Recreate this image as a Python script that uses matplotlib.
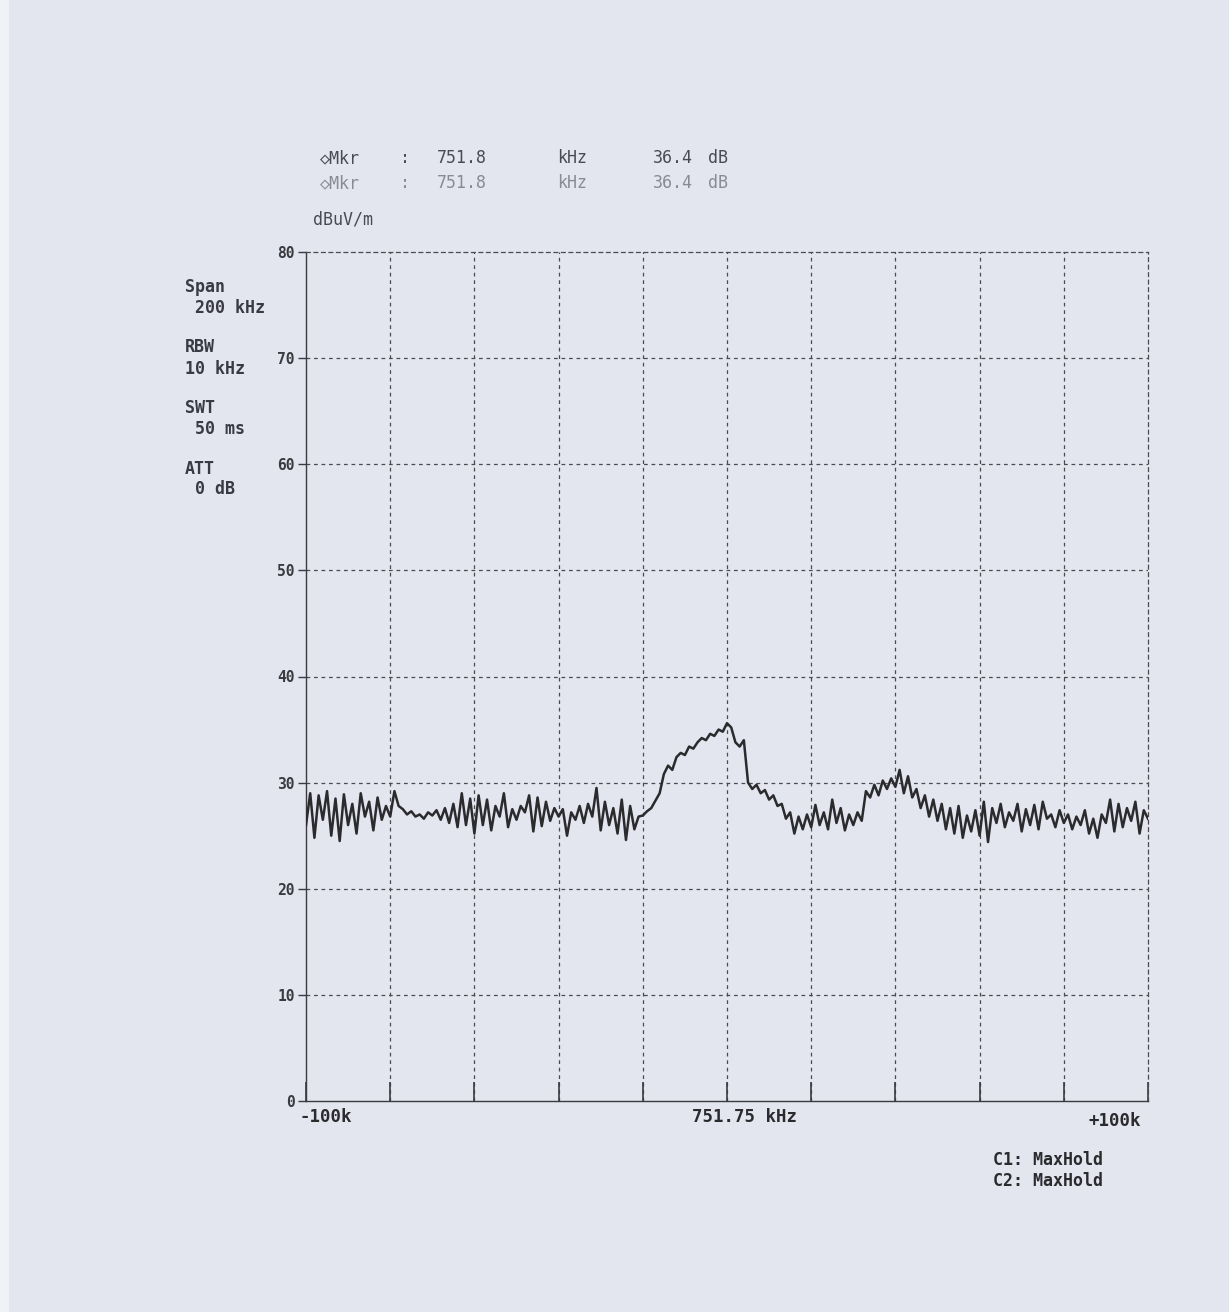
import numpy as np
import matplotlib
matplotlib.use("Agg")
import matplotlib.pyplot as plt

# Frequency offset from centre (kHz), 1 kHz steps across the 200 kHz span
offset_khz = np.arange(-100, 101, 1)

# MaxHold trace level (dBuV/m)
level_dbuv = [
    # -100 .. -81
    26.0, 29.0, 24.8, 28.8, 26.5, 29.2, 25.0, 28.5, 24.5, 28.9,
    26.0, 28.0, 25.2, 29.0, 26.8, 28.2, 25.5, 28.6, 26.5, 27.8,
    # -80 .. -61
    26.8, 29.2, 27.8, 27.5, 27.0, 27.3, 26.8, 27.0, 26.6, 27.2,
    26.9, 27.4, 26.5, 27.6, 26.2, 28.0, 25.8, 29.0, 26.0, 28.5,
    # -60 .. -41
    25.2, 28.8, 26.0, 28.4, 25.5, 27.8, 26.8, 29.0, 25.8, 27.5,
    26.5, 27.8, 27.2, 28.8, 25.4, 28.6, 25.9, 28.2, 26.4, 27.6,
    # -40 .. -21
    26.8, 27.5, 25.0, 27.2, 26.5, 27.8, 26.2, 28.0, 26.8, 29.5,
    25.5, 28.2, 26.0, 27.6, 25.2, 28.4, 24.6, 27.8, 25.6, 26.8,
    # -20 .. -1
    26.9, 27.3, 27.6, 28.3, 29.0, 30.8, 31.6, 31.2, 32.4, 32.8,
    32.6, 33.4, 33.2, 33.8, 34.2, 34.0, 34.6, 34.4, 35.0, 34.8,
    # 0 .. 19
    35.6, 35.2, 33.8, 33.4, 34.0, 30.0, 29.4, 29.8, 29.0, 29.3,
    28.4, 28.8, 27.8, 28.0, 26.6, 27.2, 25.2, 26.8, 25.6, 27.0,
    # 20 .. 39
    25.8, 27.9, 26.0, 27.2, 25.6, 28.4, 26.2, 27.6, 25.5, 27.0,
    26.0, 27.2, 26.4, 29.2, 28.6, 29.8, 28.8, 30.2, 29.4, 30.4,
    # 40 .. 59
    29.6, 31.2, 29.0, 30.6, 28.6, 29.4, 27.6, 28.8, 26.8, 28.4,
    26.4, 28.0, 25.6, 27.6, 25.2, 27.8, 24.8, 26.9, 25.4, 27.4,
    # 60 .. 79
    25.0, 28.2, 24.4, 27.6, 26.2, 28.0, 25.8, 27.2, 26.4, 28.0,
    25.4, 27.5, 26.0, 27.9, 25.6, 28.2, 26.6, 27.0, 25.8, 27.4,
    # 80 .. 100
    26.2, 27.0, 25.6, 26.8, 26.0, 27.4, 25.2, 26.6, 24.8, 27.0,
    26.2, 28.4, 25.4, 28.0, 25.8, 27.6, 26.4, 28.2, 25.2, 27.4,
    26.6,
]

y_ticks = [0, 10, 20, 30, 40, 50, 60, 70, 80]
x_grid = np.arange(-100, 101, 20)

header_lines = [
    ["\u25c7Mkr", ":", "751.8", "kHz", "36.4", "dB"],
    ["\u25c7Mkr", ":", "751.8", "kHz", "36.4", "dB"],
]
settings = [("Span", " 200 kHz"), ("RBW", "10 kHz"), ("SWT", " 50 ms"), ("ATT", " 0 dB")]
trace_modes = ["C1: MaxHold", "C2: MaxHold"]

paper = "#e3e5ef"
ink = "#2b2b2e"
W, H = 1229, 1312

fig = plt.figure(figsize=(W / 100, H / 100), dpi=100, facecolor=paper)
mono = dict(family="DejaVu Sans Mono", fontweight="bold")


def px(x, y):
    return x / W, 1 - y / H


# scanner margin on the left edge
fig.patches.append(plt.Rectangle((0, 0), 8 / W, 1, transform=fig.transFigure,
                                 color="#f1f2f7", zorder=0))

ax = fig.add_axes([306 / W, 1 - 1101 / H, (1148 - 306) / W, (1101 - 252) / H])
ax.set_facecolor(paper)
ax.set_xlim(-100, 100)
ax.set_ylim(0, 80)

# dashed graticule
for xv in x_grid[1:-1]:
    ax.axvline(xv, color="#4a4a50", lw=0.9, ls=(0, (3, 3)), zorder=1)
for yv in y_ticks[1:-1]:
    ax.axhline(yv, color="#4a4a50", lw=0.9, ls=(0, (3, 3)), zorder=1)

ax.plot(offset_khz, level_dbuv, color=ink, lw=1.8, zorder=3)

for side in ["top", "right"]:
    ax.spines[side].set_linestyle((0, (3, 3)))
    ax.spines[side].set_color("#4a4a50")
    ax.spines[side].set_linewidth(0.9)
for side in ["left", "bottom"]:
    ax.spines[side].set_color("#3a3a40")
    ax.spines[side].set_linewidth(1.0)

ax.set_yticks(y_ticks)
ax.set_yticklabels([str(v) for v in y_ticks], fontsize=10.5, color="#3a3a40", **mono)
ax.tick_params(axis="y", direction="out", length=6, width=1.0, color="#3a3a40", pad=2)
ax.set_xticks(x_grid)
ax.set_xticklabels([])
ax.tick_params(axis="x", direction="in", length=14, width=1.2, color="#3a3a40")

# frequency labels under the axis
fig.text(*px(300, 1117), "-100k", fontsize=12.5, color=ink, va="center", ha="left", **mono)
fig.text(*px(745, 1117), "751.75 kHz", fontsize=12.5, color=ink, va="center", ha="center", **mono)
fig.text(*px(1141, 1121), "+100k", fontsize=12.5, color=ink, va="center", ha="right", **mono)

# marker readout header
cols = [320, 400, 437, 557, 653, 708]
for row, (line, yy, col) in enumerate(zip(header_lines, [158, 183], ["#4a4a55", "#8a8a95"])):
    for x0, s in zip(cols, line):
        fig.text(*px(x0, yy), s, fontsize=12, color=col, va="center", ha="left",
                 family="DejaVu Sans Mono")
fig.text(*px(313, 220), "dBuV/m", fontsize=12, color="#4a4a55", va="center", ha="left",
         family="DejaVu Sans Mono")

# analyser settings
for i, (name, val) in enumerate(settings):
    y0 = 287 + 60.5 * i
    fig.text(*px(185, y0), name, fontsize=12, color="#3a3a44", va="center", ha="left", **mono)
    fig.text(*px(185, y0 + 21), val, fontsize=12, color="#3a3a44", va="center", ha="left", **mono)

# trace modes
for i, s in enumerate(trace_modes):
    fig.text(*px(993, 1160 + 21 * i), s, fontsize=12, color=ink, va="center", ha="left", **mono)

fig.savefig("out.png", dpi=100, facecolor=paper)
